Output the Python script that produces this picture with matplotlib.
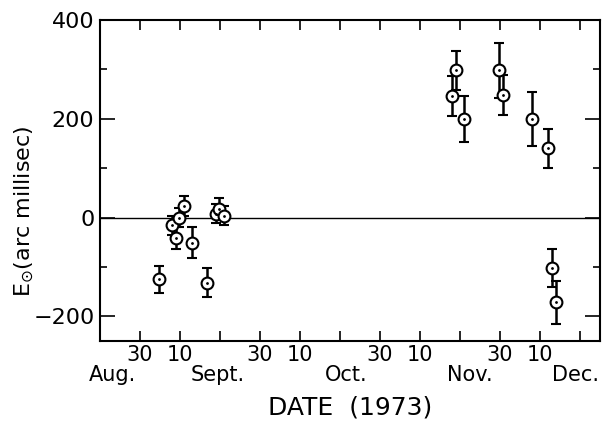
import matplotlib
matplotlib.use("Agg")
import matplotlib.pyplot as plt
from matplotlib.ticker import FixedLocator, MultipleLocator
import numpy as np

# days counted from Aug. 30, 1973
day = [4.75, 7.9, 9.0, 9.8, 11.0, 12.9, 16.8, 18.9, 19.8, 21.0,
       77.9, 79.0, 80.9, 89.8, 90.8, 97.9, 101.9, 102.9, 104.0]
e_sun = [-125, -16, -42, 0, 23, -51, -132, 8, 17, 4,
         246, 298, 199, 298, 248, 199, 140, -102, -172]
err = [27, 20, 22, 20, 20, 31, 29, 20, 22, 20,
       40, 40, 47, 55, 40, 55, 39, 39, 43]

tick_days = [0, 10, 30, 40, 60, 70, 90, 100]
tick_labels = ["30", "10", "30", "10", "30", "10", "30", "10"]
months = ["Aug.", "Sept.", "Oct.", "Nov.", "Dec."]
month_days = [-6.8, 19.5, 51.5, 82.5, 109.0]

plt.rcParams["font.family"] = "DejaVu Sans"

fig = plt.figure(figsize=(6.08, 4.23), dpi=100)
ax = fig.add_axes([0.1645, 0.194, 0.8223, 0.7587])

ax.axhline(0, color="black", lw=1.0, zorder=1)
ax.errorbar(day, e_sun, yerr=err, fmt="o", ms=8.5, mfc="white", mec="black",
            mew=1.5, ecolor="black", elinewidth=1.8, capsize=3.5, capthick=1.6,
            zorder=3)
ax.plot(day, e_sun, ".", ms=2, color="black", zorder=4)

ax.set_xlim(-10, 115)
ax.set_ylim(-250, 400)

ax.xaxis.set_major_locator(FixedLocator(np.arange(0, 111, 10)))
ax.set_xticklabels([])
ax.yaxis.set_major_locator(FixedLocator([-200, 0, 200, 400]))
ax.yaxis.set_minor_locator(MultipleLocator(100))
ax.set_yticklabels(["\u2212200", "0", "200", "400"], fontsize=16)

ax.tick_params(axis="x", direction="in", top=True, length=7, width=1.2)
ax.tick_params(axis="y", which="major", direction="in", right=True, length=11, width=1.2,
               pad=4)
ax.tick_params(axis="y", which="minor", direction="in", right=True, length=5, width=1.2)
for s in ax.spines.values():
    s.set_linewidth(1.5)

for d, t in zip(tick_days, tick_labels):
    ax.text(d, -0.045, t, transform=ax.get_xaxis_transform(), ha="center", va="center",
            fontsize=15)
for d, m in zip(month_days, months):
    ax.text(d, -0.107, m, transform=ax.get_xaxis_transform(), ha="center", va="center",
            fontsize=15)

ax.text(0.5, -0.208, "DATE  (1973)", transform=ax.transAxes, ha="center", va="center",
        fontsize=18)
fig.text(0.04, 0.5, r"E$_{\odot}$(arc millisec)", rotation=90, ha="center", va="center",
         fontsize=16)

fig.savefig("out.png", dpi=100)
